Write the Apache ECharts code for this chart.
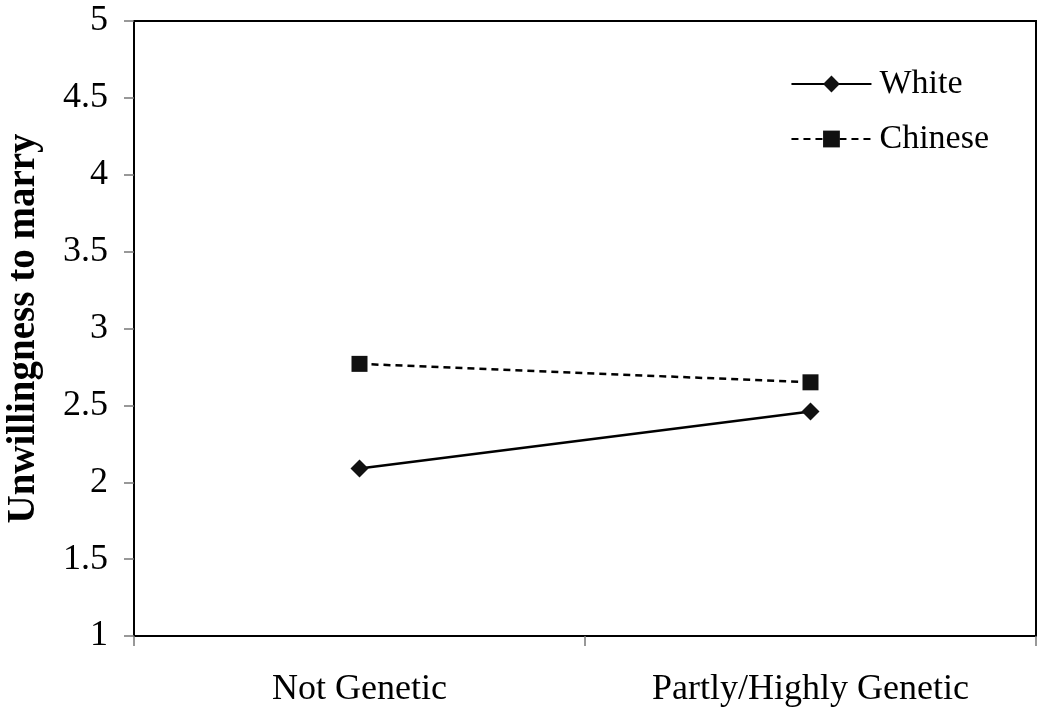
<!DOCTYPE html>
<html><head><meta charset="utf-8">
<script src="https://cdn.jsdelivr.net/npm/echarts@6/dist/echarts.min.js"></script>
<style>html,body{margin:0;padding:0;background:#fff}#c{width:1050px;height:716px}</style>
</head><body><div id="c"></div>
<script>
var categories = ['Not Genetic', 'Partly/Highly Genetic'];
var whiteValues = [2.09, 2.46];
var chineseValues = [2.77, 2.65];
var yTicks = [1, 1.5, 2, 2.5, 3, 3.5, 4, 4.5, 5];

var serif = '"Liberation Serif", "Times New Roman", serif';
var chart = echarts.init(document.getElementById('c'));
chart.setOption({
  backgroundColor: '#fff',
  animation: false,
  grid: {left: 134, top: 21, right: 14, bottom: 80, show: true, borderColor: '#000', borderWidth: 2,
         containLabel: false, outerBoundsMode: 'none'},
  legend: {
    right: 56, top: 62, orient: 'vertical', itemWidth: 80, itemHeight: 21, itemGap: 21,
    textStyle: {fontFamily: serif, fontSize: 34, color: '#000', padding: [0, 0, 0, 3]},
    data: ['White', 'Chinese']
  },
  xAxis: {
    type: 'category', data: categories, boundaryGap: true,
    axisLine: {lineStyle: {color: '#000', width: 2}},
    axisTick: {show: true, length: 10, lineStyle: {color: '#777', width: 1.5}},
    axisLabel: {fontFamily: serif, fontSize: 36, color: '#000', margin: 36}
  },
  yAxis: {
    type: 'value', min: yTicks[0], max: yTicks[yTicks.length - 1], interval: 0.5,
    name: 'Unwillingness to marry', nameLocation: 'middle', nameGap: 91,
    nameTextStyle: {fontFamily: serif, fontSize: 39, fontWeight: 'bold', color: '#000'},
    splitLine: {show: false},
    axisLine: {show: true, lineStyle: {color: '#000', width: 2}},
    axisTick: {show: true, length: 10, lineStyle: {color: '#777', width: 1.5}},
    axisLabel: {fontFamily: serif, fontSize: 36, color: '#000', margin: 26}
  },
  series: [
    {name: 'White', type: 'line', data: whiteValues, symbol: 'diamond', symbolSize: 18,
     itemStyle: {color: '#111'}, lineStyle: {color: '#000', width: 2.5, type: 'solid'}},
    {name: 'Chinese', type: 'line', data: chineseValues, symbol: 'rect', symbolSize: 16,
     itemStyle: {color: '#111', borderRadius: 2}, lineStyle: {color: '#000', width: 2.5, type: [7, 5]}}
  ]
});
</script></body></html>
